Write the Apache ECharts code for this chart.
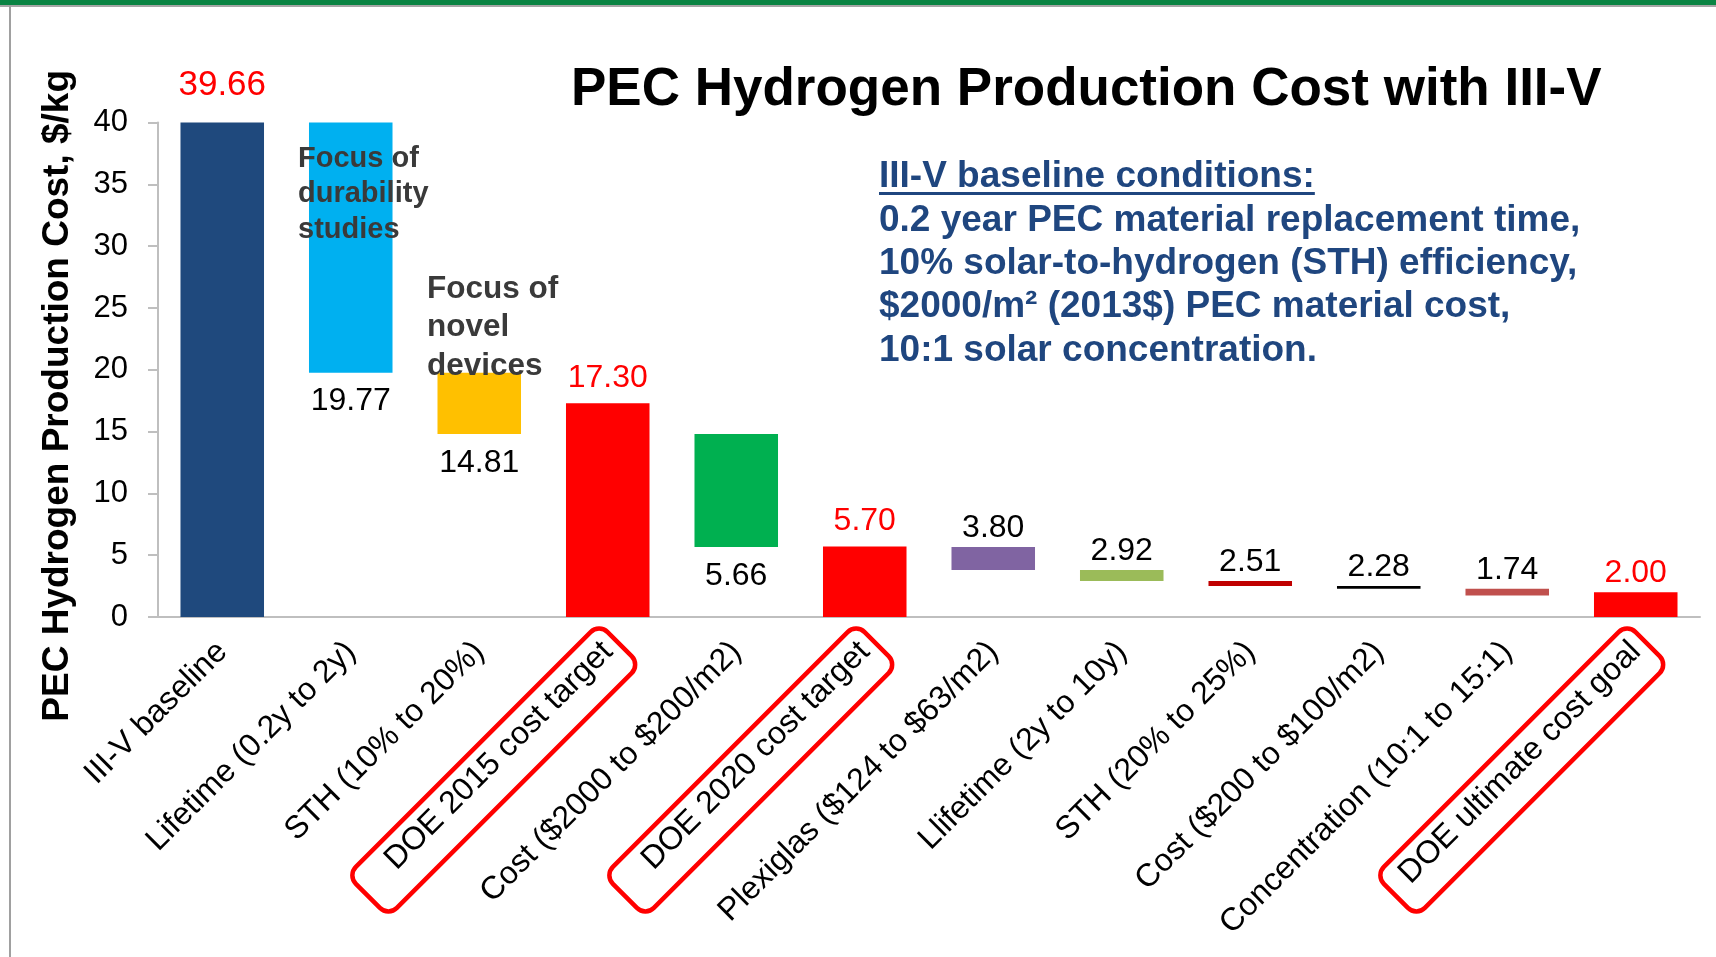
<!DOCTYPE html>
<html>
<head>
<meta charset="utf-8">
<script src="https://cdn.jsdelivr.net/npm/echarts@6/dist/echarts.min.js"></script>
<style>
html,body{margin:0;padding:0;background:#ffffff;}
#chart{width:1716px;height:957px;}
</style>
</head>
<body>
<div id="chart"></div>
<script>
// ---------------- data ----------------
const categories = [
  'III-V baseline',
  'Lifetime (0.2y to 2y)',
  'STH (10% to 20%)',
  'DOE 2015 cost target',
  'Cost ($2000 to $200/m2)',
  'DOE 2020 cost target',
  'Plexiglas ($124 to $63/m2)',
  'Llifetime (2y to 10y)',
  'STH (20% to 25%)',
  'Cost ($200 to $100/m2)',
  'Concentration (10:1 to 15:1)',
  'DOE ultimate cost goal'
];
// bottom and top of each (floating) bar as drawn, $/kg
const barLow  = [0,  19.77, 14.81, 0,     5.66,  0,    3.80, 2.92, 2.51, 2.28, 1.74, 0];
const barHigh = [40, 40,    19.77, 17.30, 14.81, 5.70, 5.66, 3.80, 2.92, 2.51, 2.28, 2.00];
// value written next to each bar
const resultValues = [39.66, 19.77, 14.81, 17.30, 5.66, 5.70, 3.80, 2.92, 2.51, 2.28, 1.74, 2.00];
// y axis range / step
const yMin = 0, yMax = 40, yStep = 5;
// DOE targets (highlighted categories)
const targetCategories = ['DOE 2015 cost target', 'DOE 2020 cost target', 'DOE ultimate cost goal'];

const titleText = 'PEC Hydrogen Production Cost with III-V';
const yAxisTitle = 'PEC Hydrogen Production Cost, $/kg';
const noteHeading = 'III-V baseline conditions:';
const noteLines = [
  '0.2 year PEC material replacement time,',
  '10% solar-to-hydrogen (STH) efficiency,',
  '$2000/m\u00B2 (2013$) PEC material cost,',
  '10:1 solar concentration.'
];
const focusDurability = 'Focus of\ndurability\nstudies';
const focusDevices = 'Focus of\nnovel\ndevices';

// ---------------- styles ----------------
const FONT = '"Liberation Sans", Arial, Helvetica, sans-serif';
const barColors = ['#1F497D','#00B0F0','#FFC000','#FF0000','#00B050','#FF0000',
                   '#8064A2','#9BBB59','#C00000','#000000','#C0504D','#FF0000'];
const labelBelow = new Set([1, 2, 4]);
const redLabel = new Set([0, 3, 5, 11]);
const labelDistance = {0: 20, 3: 9, 5: 9};
const labelSize = {0: 35};

const chart = echarts.init(document.getElementById('chart'), null, {renderer: 'canvas'});

const deltaData = categories.map((c, i) => ({
  value: +(barHigh[i] - barLow[i]).toFixed(2),
  itemStyle: {color: barColors[i]},
  label: {
    position: labelBelow.has(i) ? 'bottom' : 'top',
    distance: labelBelow.has(i) ? 13 : (labelDistance[i] !== undefined ? labelDistance[i] : 3),
    fontSize: labelSize[i] || 32,
    color: redLabel.has(i) ? '#FF0000' : '#000000'
  }
}));

const option = {
  animation: false,
  backgroundColor: '#ffffff',
  title: {
    text: titleText,
    left: 571,
    top: 64,
    padding: 0,
    textStyle: {fontFamily: FONT, fontSize: 53, fontWeight: 'bold', color: '#000000'}
  },
  grid: {left: 158, right: 16, top: 122.6, bottom: 340, containLabel: false},
  xAxis: {
    type: 'category',
    data: categories,
    axisLine: {show: true, lineStyle: {color: '#BFBFBF', width: 2}},
    axisTick: {show: false},
    axisLabel: {
      interval: 0, rotate: 45, margin: 30,
      fontFamily: FONT, fontSize: 32, color: '#000000'
    },
    splitLine: {show: false}
  },
  yAxis: {
    type: 'value',
    min: yMin, max: yMax, interval: yStep,
    name: yAxisTitle,
    nameLocation: 'middle',
    nameGap: 82,
    nameTextStyle: {fontFamily: FONT, fontSize: 37, fontWeight: 'bold', color: '#000000', padding: [0, 52, 0, 0]},
    axisLine: {show: true, lineStyle: {color: '#BFBFBF', width: 2}},
    axisTick: {show: true, length: 10, inside: false, lineStyle: {color: '#BFBFBF', width: 2}},
    axisLabel: {margin: 30, fontFamily: FONT, fontSize: 31, color: '#000000'},
    splitLine: {show: false}
  },
  series: [
    {
      name: 'base',
      type: 'bar',
      stack: 'waterfall',
      silent: true,
      barCategoryGap: '35%',
      itemStyle: {color: 'rgba(0,0,0,0)'},
      data: barLow
    },
    {
      name: 'cost',
      type: 'bar',
      stack: 'waterfall',
      barCategoryGap: '35%',
      label: {
        show: true,
        fontFamily: FONT,
        fontSize: 32,
        formatter: p => resultValues[p.dataIndex].toFixed(2)
      },
      data: deltaData
    }
  ]
};
chart.setOption(option);

// ---------------- annotations (built from the axes) ----------------
function textWidth(str, font) {
  const c = document.createElement('canvas').getContext('2d');
  c.font = font;
  return c.measureText(str).width;
}

function buildGraphics() {
  const y0 = chart.convertToPixel({yAxisIndex: 0}, yMin);
  const g = [];
  // slide frame
  g.push({type: 'rect', x: 0, y: 0, shape: {width: 1716, height: 5}, style: {fill: '#0A8443'}, z: 50});
  g.push({type: 'rect', x: 0, y: 5, shape: {width: 1716, height: 2}, style: {fill: '#A6A6A6'}, z: 50});
  g.push({type: 'rect', x: 9, y: 5, shape: {width: 2, height: 952}, style: {fill: '#A0A0A0'}, z: 50});

  // baseline conditions note
  const noteFont = 'bold 37px ' + FONT;
  g.push({
    type: 'text', x: 879, y: 155.3, z: 100,
    style: {
      text: [noteHeading].concat(noteLines).join('\n'),
      font: noteFont, fill: '#1F467F', lineHeight: 43.4,
      align: 'left', verticalAlign: 'top'
    }
  });
  const uw = textWidth(noteHeading, noteFont);
  g.push({type: 'rect', x: 879, y: 192, shape: {width: uw, height: 3}, style: {fill: '#1F467F'}, z: 100});

  // focus annotations
  g.push({
    type: 'text', x: 298, y: 141, z: 100,
    style: {text: focusDurability, font: 'bold 29px ' + FONT, fill: '#3A3A3A',
            lineHeight: 35.5, align: 'left', verticalAlign: 'top'}
  });
  g.push({
    type: 'text', x: 427, y: 270, z: 100,
    style: {text: focusDevices, font: 'bold 31.5px ' + FONT, fill: '#3A3A3A',
            lineHeight: 38.5, align: 'left', verticalAlign: 'top'}
  });

  // red rounded frames around the DOE target labels
  targetCategories.forEach(cat => {
    const x = chart.convertToPixel({xAxisIndex: 0}, cat);
    g.push({
      type: 'rect', x: x - 114, y: y0 + 153, rotation: Math.PI / 4, z: 100,
      shape: {x: -178, y: -29, width: 356, height: 58, r: 12},
      style: {fill: 'none', stroke: '#FF0000', lineWidth: 4.5}
    });
  });
  return g;
}
chart.setOption({graphic: buildGraphics()});
</script>
</body>
</html>
